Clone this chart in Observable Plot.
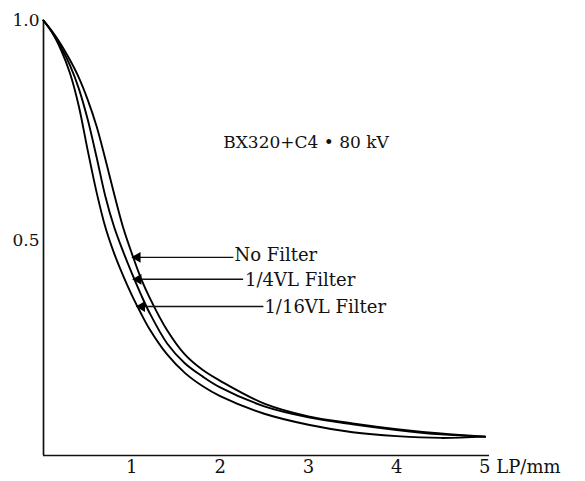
<!DOCTYPE html>
<html><head><meta charset="utf-8">
<script src="https://cdn.jsdelivr.net/npm/d3@7"></script>
<script src="https://cdn.jsdelivr.net/npm/@observablehq/plot@0.6"></script>
<style>body{margin:0;background:#fff}</style>
</head><body><div id="chart"></div>
<script>
const seriesNames = ["No Filter", "1/4VL Filter", "1/16VL Filter"];
const freq = [0, 0.1, 0.2, 0.3, 0.4, 0.5, 0.6, 0.7, 0.8, 0.9, 1.0, 1.1, 1.2, 1.4, 1.6, 1.8, 2.0, 2.5, 3.0, 3.5, 4.0, 4.5, 5.0];
const mtfNoFilter  = [1.0, 0.975, 0.945, 0.91, 0.87, 0.82, 0.76, 0.685, 0.605, 0.53, 0.47, 0.415, 0.37, 0.295, 0.24, 0.205, 0.18, 0.128, 0.099, 0.083, 0.07, 0.06, 0.053];
const mtfQuarter   = [1.0, 0.972, 0.938, 0.898, 0.845, 0.775, 0.69, 0.60, 0.53, 0.475, 0.425, 0.378, 0.335, 0.265, 0.22, 0.19, 0.165, 0.122, 0.097, 0.081, 0.068, 0.058, 0.053];
const mtfSixteenth = [1.0, 0.972, 0.932, 0.88, 0.805, 0.705, 0.61, 0.53, 0.47, 0.42, 0.375, 0.335, 0.298, 0.24, 0.198, 0.168, 0.145, 0.105, 0.08, 0.063, 0.054, 0.05, 0.053];
const xTicks = [1, 2, 3, 4];
const yTicks = [0.5, 1.0];
const title = "BX320+C4 • 80 kV";
const xUnitLabel = "5 LP/mm";

const rows = [];
[mtfNoFilter, mtfQuarter, mtfSixteenth].forEach((vals, i) => {
  freq.forEach((f, j) => rows.push({series: seriesNames[i], freq: f, mtf: vals[j]}));
});

const labelFont = {fontSize: 18};
const chart = Plot.plot({
  width: 585, height: 481,
  marginLeft: 43, marginRight: 96, marginTop: 20, marginBottom: 26,
  style: {fontFamily: "DejaVu Serif", fontSize: "17px", color: "#111", background: "#fff"},
  x: {domain: [0, 5.05], label: null},
  y: {domain: [0.01, 1], label: null},
  marks: [
    Plot.ruleX([0], {y1: 0.01, y2: 1, strokeWidth: 1.7}),
    Plot.ruleY([0.01], {x1: 0, x2: 5.05, strokeWidth: 1.7}),
    Plot.axisY(yTicks, {tickSize: 0, tickPadding: 4, tickFormat: d => d.toFixed(1), label: null, fontSize: 17}),
    Plot.axisX(xTicks, {tickSize: 0, tickPadding: 5, label: null, fontSize: 18}),
    Plot.text([xUnitLabel], {x: 5, y: 0.01, text: d => d, textAnchor: "start", lineAnchor: "top", dx: -6, dy: 5, ...labelFont}),
    Plot.line(rows, {x: "freq", y: "mtf", z: "series", curve: "catmull-rom", stroke: "black", strokeWidth: 1.9}),
    Plot.link([0], {x1: 2.15, y1: 0.461, x2: 1.03, y2: 0.461, strokeWidth: 1.4}),
    Plot.link([0], {x1: 2.26, y1: 0.411, x2: 1.04, y2: 0.411, strokeWidth: 1.4}),
    Plot.link([0], {x1: 2.49, y1: 0.349, x2: 1.08, y2: 0.349, strokeWidth: 1.4}),
    Plot.dot([0], {x: 1.03, y: 0.461, symbol: "triangle", r: 4, rotate: -90, fill: "black", stroke: null, dx: 3}),
    Plot.dot([0], {x: 1.04, y: 0.411, symbol: "triangle", r: 4, rotate: -90, fill: "black", stroke: null, dx: 3}),
    Plot.dot([0], {x: 1.08, y: 0.349, symbol: "triangle", r: 4, rotate: -90, fill: "black", stroke: null, dx: 3}),
    Plot.text([seriesNames[0]], {x: 2.15, y: 0.465, text: d => d, textAnchor: "start", dx: 1, ...labelFont}),
    Plot.text([seriesNames[1]], {x: 2.26, y: 0.408, text: d => d, textAnchor: "start", dx: 2, ...labelFont}),
    Plot.text([seriesNames[2]], {x: 2.49, y: 0.347, text: d => d, textAnchor: "start", dx: 1, ...labelFont}),
    Plot.text([title], {x: 3.91, y: 0.722, text: d => d, textAnchor: "end", fontSize: 17})
  ]
});
document.getElementById("chart").appendChild(chart);
</script>
</body></html>
